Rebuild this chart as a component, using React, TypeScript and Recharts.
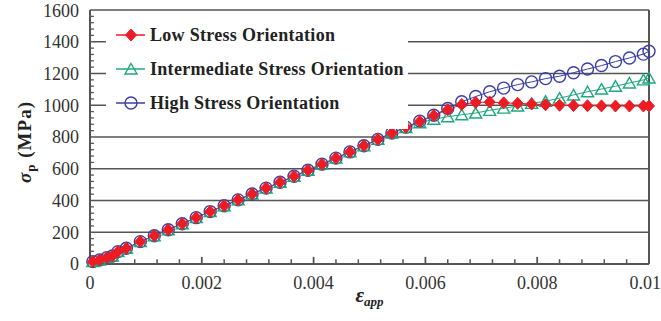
import React from 'react';
import { LineChart, Line, XAxis, YAxis, CartesianGrid, Legend, ReferenceLine } from 'recharts';

// applied strain at each output step
const strain = [
  0.00005, 0.00017, 0.0003, 0.0004, 0.0005, 0.00065, 0.0009, 0.00115, 0.0014, 0.00165,
  0.0019, 0.00215, 0.0024, 0.00265, 0.0029, 0.00315, 0.0034, 0.00365, 0.0039, 0.00415,
  0.0044, 0.00465, 0.0049, 0.00515, 0.0054, 0.00565, 0.0059, 0.00615, 0.0064, 0.00665,
  0.0069, 0.00715, 0.0074, 0.00765, 0.0079, 0.00815, 0.0084, 0.00865, 0.0089, 0.00915,
  0.0094, 0.00965, 0.0099, 0.01,
];

// sigma_p (MPa) per orientation
const lowStress = [
  15, 25, 40, 50, 78, 99, 141, 178, 216, 254,
  292, 330, 367, 404, 441, 478, 515, 553, 591, 629,
  667, 706, 745, 785, 825, 862, 898, 935, 972, 1005,
  1018, 1020, 1015, 1012, 1008, 1003, 1000, 998, 997, 996,
  995, 995, 995, 995,
];
const intermediateStress = [
  15, 25, 40, 50, 78, 99, 141, 178, 216, 254,
  292, 330, 367, 404, 441, 478, 515, 553, 591, 629,
  667, 706, 745, 785, 825, 860, 890, 912, 928, 940,
  951, 968, 982, 995, 1012, 1025, 1045, 1065, 1085, 1102,
  1120, 1140, 1160, 1172,
];
const highStress = [
  15, 25, 40, 50, 78, 99, 141, 178, 216, 254,
  292, 330, 367, 404, 441, 478, 515, 553, 591, 629,
  667, 706, 745, 785, 825, 862, 900, 937, 980, 1022,
  1055, 1085, 1108, 1130, 1147, 1168, 1183, 1205, 1228, 1250,
  1275, 1298, 1322, 1340,
];

const xTicks = [0, 0.002, 0.004, 0.006, 0.008, 0.01];
const yTicks = [0, 200, 400, 600, 800, 1000, 1200, 1400, 1600];

const data = strain.map((e, i) => ({
  strain: e,
  low: lowStress[i],
  intermediate: intermediateStress[i],
  high: highStress[i],
}));

const FONT = '"Liberation Serif", "Times New Roman", serif';
const AXIS = '#555';
const RED = '#ec1c24';
const GREEN = '#1fa77e';
const BLUE = '#3a3ea6';

// minor tick marks point into the plot
const xMinor: number[] = [];
for (let i = 1; i < 25; i++) if (i % 5 !== 0) xMinor.push(i * 0.0004);
const yMinor: number[] = [];
for (let i = 1; i < 40; i++) if (i % 5 !== 0) yMinor.push(i * 40);

const diamond = (cx: number, cy: number, key?: string) => (
  <polygon key={key} points={`${cx},${cy - 6} ${cx + 5.5},${cy} ${cx},${cy + 6} ${cx - 5.5},${cy}`} fill={RED} stroke={RED} />
);
const triangle = (cx: number, cy: number, key?: string) => (
  <polygon key={key} points={`${cx},${cy - 5.5} ${cx + 6},${cy + 5} ${cx - 6},${cy + 5}`} fill="none" stroke={GREEN} strokeWidth={1.4} />
);
const circle = (cx: number, cy: number, key?: string) => (
  <circle key={key} cx={cx} cy={cy} r={6} fill="none" stroke={BLUE} strokeWidth={1.4} />
);

const legendItems = [
  { name: 'Low Stress Orientation', color: RED, mark: diamond },
  { name: 'Intermediate Stress Orientation', color: GREEN, mark: triangle },
  { name: 'High Stress Orientation', color: BLUE, mark: circle },
];

const LegendBox = () => (
  <div style={{ paddingTop: 7 }}>
    {legendItems.map((it) => (
      <div key={it.name} style={{ display: 'flex', alignItems: 'center', height: 34 }}>
        <svg width={44} height={20} style={{ display: 'block' }}>
          <line x1={10} y1={10} x2={39} y2={10} stroke={it.color} strokeWidth={1.5} />
          {it.mark(25, 10)}
        </svg>
        <span style={{ fontFamily: FONT, fontWeight: 'bold', fontSize: 18, color: '#222', letterSpacing: 0.3 }}>
          {it.name}
        </span>
      </div>
    ))}
  </div>
);

const YTitle = (props: any) => {
  const { x, y, height } = props.viewBox;
  const tx = x + 31;
  const ty = y + height / 2 + 5;
  return (
    <text x={tx} y={ty} transform={`rotate(-90, ${tx}, ${ty})`} textAnchor="middle"
      fontFamily={FONT} fontWeight="bold" fontSize={19} fill="#222" letterSpacing={1}>
      <tspan fontStyle="italic">σ</tspan>
      <tspan fontSize={13} dy={4}>p</tspan>
      <tspan dy={-4}>{'  (MPa)'}</tspan>
    </text>
  );
};

const XTitle = (props: any) => {
  const { x, y, width } = props.viewBox;
  return (
    <text x={x + width / 2} y={y + 38} textAnchor="middle" fontFamily={FONT} fontWeight="bold"
      fontStyle="italic" fill="#222">
      <tspan fontSize={21}>ε</tspan>
      <tspan fontSize={13} dy={4}>app</tspan>
    </text>
  );
};

const tickStyle = { fontFamily: FONT, fontSize: 18, fill: '#333' };

export default function App() {
  return (
    <div style={{ position: 'absolute', left: 0, top: 0, width: 661, height: 321, background: '#fff' }}>
      <LineChart width={661} height={321} data={data} margin={{ top: 10, right: 12, bottom: 27, left: 0 }}>
        <CartesianGrid horizontal vertical={false} stroke={AXIS} strokeWidth={1.6} />
        <XAxis
          dataKey="strain"
          type="number"
          domain={[0, 0.01]}
          ticks={xTicks}
          tickFormatter={(v: number) => (v === 0 ? '0' : String(+v.toFixed(3)))}
          tick={tickStyle}
          tickLine={false}
          tickSize={0}
          tickMargin={12}
          height={30}
          axisLine={{ stroke: AXIS, strokeWidth: 2 }}
          label={<XTitle />}
        />
        <YAxis
          type="number"
          domain={[0, 1600]}
          ticks={yTicks}
          tick={tickStyle}
          tickLine={false}
          tickSize={0}
          tickMargin={11}
          width={90}
          axisLine={{ stroke: AXIS, strokeWidth: 2 }}
          label={<YTitle />}
        />
        <ReferenceLine x={0.01} stroke={AXIS} strokeWidth={2} />
        {xMinor.map((t) => (
          <ReferenceLine key={`xm-${t}`} segment={[{ x: t, y: 0 }, { x: t, y: 30 }]} stroke={AXIS} strokeWidth={1.5} />
        ))}
        {xTicks.slice(1, -1).map((t) => (
          <ReferenceLine key={`xM-${t}`} segment={[{ x: t, y: 0 }, { x: t, y: 45 }]} stroke={AXIS} strokeWidth={1.8} />
        ))}
        {yMinor.map((t) => (
          <ReferenceLine key={`ym-${t}`} segment={[{ x: 0, y: t }, { x: 0.00007, y: t }]} stroke={AXIS} strokeWidth={1.3} />
        ))}
        <Legend
          layout="vertical"
          align="center"
          verticalAlign="middle"
          content={<LegendBox />}
          wrapperStyle={{ left: 106, top: 11, width: 302, height: 118, background: '#fff' }}
        />
        <Line
          dataKey="high"
          name="High Stress Orientation"
          stroke={BLUE}
          strokeWidth={1}
          isAnimationActive={false}
          dot={(p: any) => circle(p.cx, p.cy, `h-${p.index}`)}
          legendType="none"
        />
        <Line
          dataKey="intermediate"
          name="Intermediate Stress Orientation"
          stroke={GREEN}
          strokeWidth={1}
          isAnimationActive={false}
          dot={(p: any) => triangle(p.cx, p.cy, `i-${p.index}`)}
          legendType="none"
        />
        <Line
          dataKey="low"
          name="Low Stress Orientation"
          stroke={RED}
          strokeWidth={1}
          isAnimationActive={false}
          dot={(p: any) => diamond(p.cx, p.cy, `l-${p.index}`)}
          legendType="none"
        />
      </LineChart>
    </div>
  );
}
